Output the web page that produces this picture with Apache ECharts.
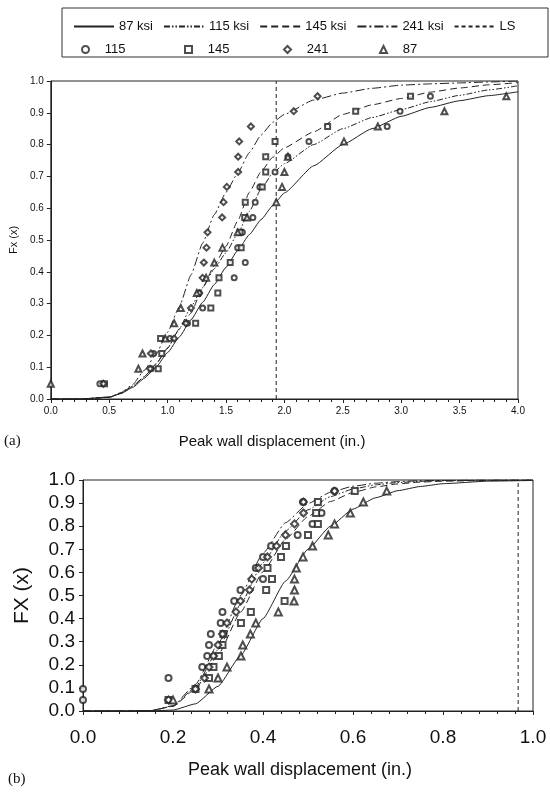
<!DOCTYPE html>
<html><head><meta charset="utf-8">
<script src="https://cdn.jsdelivr.net/npm/echarts/dist/echarts.min.js"></script>
<style>html,body{margin:0;padding:0;background:#fff}#c{width:550px;height:795px}</style>
</head><body><div id="c"></div><script>
// ---------- data ----------
// plotting positions (rank / 21) shared by all data sets
const rankF = [0.048,0.095,0.143,0.190,0.238,0.286,0.333,0.381,0.429,0.476,0.524,0.571,0.619,0.667,0.714,0.762,0.810,0.857,0.905,0.952];

// (a) fitted curves
const topX     = [0,0.25,0.5,0.6,0.7,0.8,0.9,1.0,1.1,1.2,1.3,1.4,1.5,1.6,1.7,1.8,1.9,2.0,2.25,2.5,2.75,3.0,3.25,3.5,3.75,4.0];
const top87    = [0,0,0.006,0.017,0.036,0.065,0.10,0.146,0.195,0.249,0.304,0.36,0.414,0.467,0.517,0.564,0.608,0.648,0.733,0.80,0.85,0.889,0.917,0.938,0.954,0.966];
const top115   = [0,0,0.005,0.018,0.04,0.07,0.11,0.16,0.22,0.29,0.35,0.41,0.46,0.52,0.59,0.66,0.71,0.74,0.80,0.85,0.885,0.91,0.935,0.955,0.972,0.985];
const top145   = [0,0,0.005,0.018,0.04,0.07,0.11,0.16,0.22,0.27,0.35,0.42,0.48,0.56,0.65,0.715,0.76,0.79,0.84,0.895,0.925,0.945,0.965,0.978,0.988,0.995];
const top241   = [0,0,0.006,0.02,0.045,0.09,0.14,0.21,0.29,0.39,0.49,0.58,0.65,0.71,0.775,0.83,0.87,0.895,0.94,0.962,0.977,0.987,0.991,0.994,0.997,1.0];
const topLS    = 1.93;
// (a) observed peak displacements (x) at rankF
const topObs115 = [0.42,0.86,0.88,1.02,1.17,1.30,1.27,1.57,1.665,1.60,1.64,1.73,1.75,1.79,1.92,2.03,2.21,2.88,2.99,3.25];
const topObs145 = [0.46,0.92,0.95,0.94,1.24,1.37,1.43,1.44,1.536,1.63,1.62,1.66,1.665,1.81,1.84,1.84,1.92,2.37,2.61,3.08];
const topObs241 = [0.45,0.85,0.857,1.056,1.156,1.20,1.27,1.30,1.31,1.333,1.342,1.467,1.479,1.507,1.604,1.604,1.613,1.713,2.08,2.284];
const topObs87  = [0.0,0.75,0.785,0.98,1.056,1.113,1.25,1.33,1.40,1.47,1.60,1.68,1.93,1.98,2.0,2.03,2.51,2.80,3.37,3.9];

// (b) fitted curves
const botX   = [0,0.1,0.15,0.2,0.25,0.3,0.35,0.4,0.45,0.5,0.55,0.6,0.65,0.7,0.75,0.8,0.9,1.0];
const bot87  = [0,0,0.0001,0.004,0.031,0.107,0.239,0.40,0.562,0.70,0.80,0.874,0.923,0.954,0.972,0.984,0.995,0.998];
const bot115 = [0,0,0.0013,0.021,0.104,0.265,0.461,0.642,0.779,0.871,0.928,0.961,0.979,0.989,0.994,0.997,0.999,1.0];
const bot145 = [0,0,0.0013,0.020,0.096,0.242,0.427,0.603,0.743,0.842,0.907,0.946,0.970,0.983,0.991,0.995,0.998,1.0];
const bot241 = [0,0,0.0012,0.023,0.115,0.29,0.50,0.683,0.815,0.898,0.947,0.973,0.986,0.993,0.997,0.998,1.0,1.0];
const botLS  = 0.967;
// (b) observed
const botObs115 = [0.0,0.0,0.19,0.265,0.276,0.28,0.284,0.306,0.31,0.336,0.35,0.40,0.384,0.40,0.418,0.477,0.51,0.53,0.489,0.559];
const botObs145 = [0.19,0.25,0.28,0.29,0.302,0.31,0.312,0.351,0.373,0.448,0.407,0.42,0.41,0.44,0.451,0.50,0.522,0.518,0.522,0.604];
const botObs241 = [0.19,0.25,0.27,0.28,0.29,0.30,0.31,0.32,0.34,0.35,0.37,0.375,0.39,0.41,0.43,0.45,0.47,0.49,0.49,0.559];
const botObs87  = [0.20,0.28,0.30,0.32,0.351,0.355,0.372,0.384,0.434,0.469,0.47,0.47,0.474,0.489,0.51,0.545,0.559,0.594,0.623,0.675];

const curveNames = ['87 ksi','115 ksi','145 ksi','241 ksi','LS'];
const obsNames   = ['115','145','241','87'];

// ---------- chart ----------
const INK = '#222';
const SANS = 'Liberation Sans, Arial, sans-serif';
const dashes = {
  '87 ksi': 'solid',
  '115 ksi': [6,2,1.5,2,1.5,2],
  '145 ksi': [7,4],
  '241 ksi': [9,3,2,3],
  'LS': [4,3]
};
const symbols = {'115':'emptyCircle','145':'emptyRect','241':'emptyDiamond','87':'emptyTriangle'};

function curve(name, xs, ys, gi) {
  return {type:'line', name, xAxisIndex:gi, yAxisIndex:gi, symbol:'none', smooth:0.15, smoothMonotone:'x',
    data: xs.map((x,i)=>[x, ys[i]]), lineStyle:{color:INK, width:1, type:dashes[name]}, itemStyle:{color:INK}, z:2};
}
function vline(name, x, gi) {
  return {type:'line', name, xAxisIndex:gi, yAxisIndex:gi, symbol:'none',
    data:[[x,0],[x,1]], lineStyle:{color:INK, width:1, type:dashes[name]}, itemStyle:{color:INK}, z:2};
}
function obs(name, xs, gi, size) {
  return {type:'scatter', name, xAxisIndex:gi, yAxisIndex:gi, symbol:symbols[name], symbolSize:size,
    data: xs.map((x,i)=>[x, rankF[i]]), itemStyle:{color:INK, borderWidth:1}, z:3};
}

const series = [
  curve('87 ksi', topX, top87, 0), curve('115 ksi', topX, top115, 0),
  curve('145 ksi', topX, top145, 0), curve('241 ksi', topX, top241, 0),
  vline('LS', topLS, 0),
  obs('115', topObs115, 0, 5), obs('145', topObs145, 0, 5), obs('241', topObs241, 0, 6), obs('87', topObs87, 0, 6),
  curve('87 ksi', botX, bot87, 1), curve('115 ksi', botX, bot115, 1),
  curve('145 ksi', botX, bot145, 1), curve('241 ksi', botX, bot241, 1),
  vline('LS', botLS, 1),
  obs('115', botObs115, 1, 6), obs('145', botObs145, 1, 6), obs('241', botObs241, 1, 7), obs('87', botObs87, 1, 7)
];

function xAx(gi, max, interval, fs, margin, minorSplit) {
  return {gridIndex:gi, type:'value', min:0, max, interval,
    axisLine:{show:true, onZero:false, lineStyle:{color:INK, width:1}},
    axisTick:{show:true, length:4, lineStyle:{color:INK}},
    minorTick:{show:true, splitNumber:minorSplit, length:3, lineStyle:{color:INK}},
    splitLine:{show:false}, minorSplitLine:{show:false},
    axisLabel:{fontSize:fs, color:'#111', margin, fontFamily:SANS, formatter:v=>v.toFixed(1)}};
}
function yAx(gi, fs, margin, name, nameFs, nameGap) {
  return {gridIndex:gi, type:'value', min:0, max:1, interval:0.1,
    axisLine:{show:true, onZero:false, lineStyle:{color:INK, width:1}},
    axisTick:{show:true, length:4, lineStyle:{color:INK}},
    splitLine:{show:false},
    axisLabel:{fontSize:fs, color:'#111', margin, fontFamily:SANS, formatter:v=>v.toFixed(1)},
    name, nameLocation:'middle', nameGap, nameTextStyle:{fontSize:nameFs, color:'#111', fontFamily:SANS}};
}

const obsLegendLeft = [76, 179, 278, 374];
const legends = [
  {top:15, left:68, itemWidth:40, itemHeight:10, itemGap:10, selectedMode:false,
   itemStyle:{opacity:0},
   data:curveNames, textStyle:{fontSize:13, color:'#111', fontFamily:SANS}}
].concat(obsNames.map((n,i)=>({
   top:38, left:obsLegendLeft[i], itemWidth:7, itemHeight:7, selectedMode:false,
   data:[n], formatter:'   {name}', textStyle:{fontSize:13, color:'#111', fontFamily:SANS}})));

const option = {
  animation:false,
  backgroundColor:'#fff',
  grid:[
    {left:50, right:32, top:81, bottom:396, show:true, borderColor:INK, borderWidth:1, backgroundColor:'transparent'},
    {left:83, right:17, top:480, bottom:84, show:true, borderColor:INK, borderWidth:1, backgroundColor:'transparent'}
  ],
  xAxis:[ xAx(0, 4, 0.5, 10, 7, 5), xAx(1, 1, 0.2, 19, 17, 5) ],
  yAxis:[ yAx(0, 10, 7, 'Fx (x)', 11, 30), yAx(1, 19, 8, 'FX (x)', 21, 50) ],
  legend: legends,
  graphic:[
    {type:'rect', shape:{x:62, y:8, width:486, height:49}, style:{fill:'none', stroke:'#333', lineWidth:1}, z:0},
    {type:'text', x:4, y:434, style:{text:'(a)', font:'15px Liberation Serif, serif', fill:'#111'}},
    {type:'text', x:272, y:434, style:{text:'Peak wall displacement (in.)', font:'15px '+SANS, fill:'#111', align:'center', textAlign:'center'}},
    {type:'text', x:8, y:772, style:{text:'(b)', font:'15px Liberation Serif, serif', fill:'#111'}},
    {type:'text', x:300, y:761, style:{text:'Peak wall displacement (in.)', font:'18px '+SANS, fill:'#111', align:'center', textAlign:'center'}}
  ],
  series
};
const chart = echarts.init(document.getElementById('c'), null, {renderer:'canvas'});
chart.setOption(option);
</script></body></html>
